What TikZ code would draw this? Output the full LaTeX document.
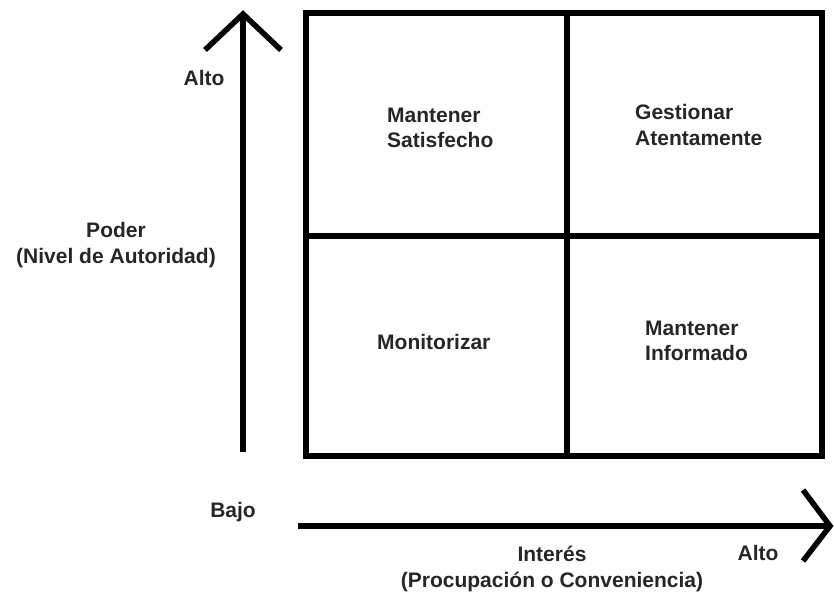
\documentclass[tikz,border=0pt]{standalone}
\usepackage{fontspec}
\setmainfont{Liberation Sans}
\begin{document}
\begin{tikzpicture}[x=1pt,y=-1pt,
  lbl/.style={font=\bfseries\fontsize{21}{25.5}\selectfont, align=center, text=black!85, inner sep=0pt},
  lbll/.style={lbl, align=left, anchor=west},
  thick line/.style={line width=5.5pt}]
\useasboundingbox (0,0) rectangle (834,593);
% grid
\draw[thick line] (306,13) rectangle (822,456);
\draw[thick line] (567,13) -- (567,456);
\draw[thick line] (306,236) -- (822,236);
% axes
\coordinate (vb) at (243,452);
\coordinate (vt) at (243,14);
\coordinate (vl) at (205,50);
\coordinate (vr) at (281,50);
\draw[thick line] (vb) -- (vt);
\draw[thick line, line join=miter] (vl) -- (vt) -- (vr);
\coordinate (hl) at (298,526);
\coordinate (hr) at (830,526);
\coordinate (ha) at (803,490);
\coordinate (hb) at (803,561);
\draw[thick line] (hl) -- (hr);
\draw[thick line, line join=miter] (ha) -- (hr) -- (hb);
% quadrant labels
\node[lbll] (q1) at (387,128) {Mantener\\Satisfecho};
\node[lbll] (q2) at (635,125) {Gestionar\\Atentamente};
\node[lbll] (q3) at (377,342) {Monitorizar};
\node[lbll] (q4) at (645,341) {Mantener\\Informado};
% axis labels
\node[lbl] (alto1) at (204,78) {Alto};
\node[lbl] (poder) at (116,245) {Poder\\(Nivel de Autoridad)};
\node[lbl] (bajo) at (233,512) {Bajo};
\node[lbl] (interes) at (552,569) {Interés\\(Procupación o Conveniencia)};
\node[lbl] (alto2) at (758,553) {Alto};
\end{tikzpicture}
\end{document}
